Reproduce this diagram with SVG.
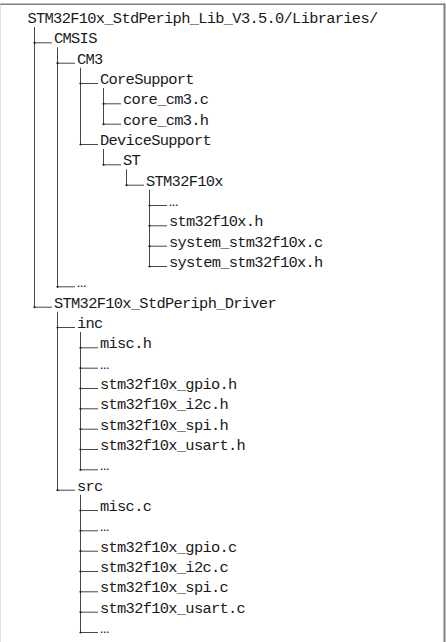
<svg xmlns="http://www.w3.org/2000/svg" width="446" height="642" viewBox="0 0 446 642">
<style>
text{font-family:"Liberation Mono","Courier New",monospace;font-size:15.4px;letter-spacing:-0.7px;fill:#1a1a1a}
.c line{stroke:#333;stroke-width:0.9}
.c circle{fill:#222}
</style>
<rect width="446" height="642" fill="#fff"/>
<g id="frame" fill="none" stroke="#808080">
<line x1="0" y1="4.3" x2="445" y2="4.3" stroke-width="1.5"/>
<line x1="444.5" y1="3.5" x2="444.5" y2="642" stroke-width="2"/>
<line x1="0.5" y1="4" x2="0.5" y2="642" stroke-width="0.6" stroke="#d0d0d0"/>
</g>
<g id="connectors" class="c">
<line x1="34.5" y1="27" x2="34.5" y2="307.2"/>
<line x1="57.5" y1="47.3" x2="57.5" y2="286.8"/>
<line x1="80.5" y1="67.7" x2="80.5" y2="144.5"/>
<line x1="103.5" y1="88" x2="103.5" y2="123.5"/>
<line x1="103.5" y1="149" x2="103.5" y2="164.8"/>
<line x1="126.5" y1="169.3" x2="126.5" y2="185.2"/>
<line x1="149.5" y1="189.7" x2="149.5" y2="266.5"/>
<line x1="57.5" y1="311.7" x2="57.5" y2="490.2"/>
<line x1="80.5" y1="332" x2="80.5" y2="469.8"/>
<line x1="80.5" y1="494.7" x2="80.5" y2="632.5"/>
<line x1="34.5" y1="42.8" x2="52" y2="42.8"/>
<line x1="57.5" y1="63.2" x2="75" y2="63.2"/>
<line x1="80.5" y1="83.5" x2="98" y2="83.5"/>
<line x1="103.5" y1="103.8" x2="121" y2="103.8"/>
<line x1="103.5" y1="124.2" x2="121" y2="124.2"/>
<line x1="80.5" y1="144.5" x2="98" y2="144.5"/>
<line x1="103.5" y1="164.8" x2="121" y2="164.8"/>
<line x1="126.5" y1="185.2" x2="144" y2="185.2"/>
<line x1="149.5" y1="205.5" x2="167" y2="205.5"/>
<line x1="149.5" y1="225.8" x2="167" y2="225.8"/>
<line x1="149.5" y1="246.2" x2="167" y2="246.2"/>
<line x1="149.5" y1="266.5" x2="167" y2="266.5"/>
<line x1="57.5" y1="286.8" x2="75" y2="286.8"/>
<line x1="34.5" y1="307.2" x2="52" y2="307.2"/>
<line x1="57.5" y1="327.5" x2="75" y2="327.5"/>
<line x1="80.5" y1="347.8" x2="98" y2="347.8"/>
<line x1="80.5" y1="368.2" x2="98" y2="368.2"/>
<line x1="80.5" y1="388.5" x2="98" y2="388.5"/>
<line x1="80.5" y1="408.8" x2="98" y2="408.8"/>
<line x1="80.5" y1="429.2" x2="98" y2="429.2"/>
<line x1="80.5" y1="449.5" x2="98" y2="449.5"/>
<line x1="80.5" y1="469.8" x2="98" y2="469.8"/>
<line x1="57.5" y1="490.2" x2="75" y2="490.2"/>
<line x1="80.5" y1="510.5" x2="98" y2="510.5"/>
<line x1="80.5" y1="530.8" x2="98" y2="530.8"/>
<line x1="80.5" y1="551.2" x2="98" y2="551.2"/>
<line x1="80.5" y1="571.5" x2="98" y2="571.5"/>
<line x1="80.5" y1="591.8" x2="98" y2="591.8"/>
<line x1="80.5" y1="612.2" x2="98" y2="612.2"/>
<line x1="80.5" y1="632.5" x2="98" y2="632.5"/>
<circle cx="34.5" cy="42.8" r="1.1"/>
<circle cx="57.5" cy="63.2" r="1.1"/>
<circle cx="80.5" cy="83.5" r="1.1"/>
<circle cx="103.5" cy="103.8" r="1.1"/>
<circle cx="103.5" cy="124.2" r="1.1"/>
<circle cx="80.5" cy="144.5" r="1.1"/>
<circle cx="103.5" cy="164.8" r="1.1"/>
<circle cx="126.5" cy="185.2" r="1.1"/>
<circle cx="149.5" cy="205.5" r="1.1"/>
<circle cx="149.5" cy="225.8" r="1.1"/>
<circle cx="149.5" cy="246.2" r="1.1"/>
<circle cx="149.5" cy="266.5" r="1.1"/>
<circle cx="57.5" cy="286.8" r="1.1"/>
<circle cx="34.5" cy="307.2" r="1.1"/>
<circle cx="57.5" cy="327.5" r="1.1"/>
<circle cx="80.5" cy="347.8" r="1.1"/>
<circle cx="80.5" cy="368.2" r="1.1"/>
<circle cx="80.5" cy="388.5" r="1.1"/>
<circle cx="80.5" cy="408.8" r="1.1"/>
<circle cx="80.5" cy="429.2" r="1.1"/>
<circle cx="80.5" cy="449.5" r="1.1"/>
<circle cx="80.5" cy="469.8" r="1.1"/>
<circle cx="57.5" cy="490.2" r="1.1"/>
<circle cx="80.5" cy="510.5" r="1.1"/>
<circle cx="80.5" cy="530.8" r="1.1"/>
<circle cx="80.5" cy="551.2" r="1.1"/>
<circle cx="80.5" cy="571.5" r="1.1"/>
<circle cx="80.5" cy="591.8" r="1.1"/>
<circle cx="80.5" cy="612.2" r="1.1"/>
<circle cx="80.5" cy="632.5" r="1.1"/>
</g>
<g id="n-root"><text x="27.5" y="23">STM32F10x_StdPeriph_Lib_V3.5.0/Libraries/</text></g>
<g id="n-cmsis"><text x="54" y="43.3">CMSIS</text></g>
<g id="n-cm3"><text x="77" y="63.7">CM3</text></g>
<g id="n-coresupport"><text x="100" y="84">CoreSupport</text></g>
<g id="n-core-cm3-c"><text x="123" y="104.3">core_cm3.c</text></g>
<g id="n-core-cm3-h"><text x="123" y="124.7">core_cm3.h</text></g>
<g id="n-devicesupport"><text x="100" y="145">DeviceSupport</text></g>
<g id="n-st"><text x="123" y="165.3">ST</text></g>
<g id="n-stm32f10x"><text x="146" y="185.7">STM32F10x</text></g>
<g id="n-dev-ellipsis"><text x="169" y="206">…</text></g>
<g id="n-stm32f10x-h"><text x="169" y="226.3">stm32f10x.h</text></g>
<g id="n-system-c"><text x="169" y="246.7">system_stm32f10x.c</text></g>
<g id="n-system-h"><text x="169" y="267">system_stm32f10x.h</text></g>
<g id="n-cmsis-ellipsis"><text x="77" y="287.3">…</text></g>
<g id="n-driver"><text x="54" y="307.7">STM32F10x_StdPeriph_Driver</text></g>
<g id="n-inc"><text x="77" y="328">inc</text></g>
<g id="n-misc-h"><text x="100" y="348.3">misc.h</text></g>
<g id="n-inc-ellipsis1"><text x="100" y="368.7">…</text></g>
<g id="n-gpio-h"><text x="100" y="389">stm32f10x_gpio.h</text></g>
<g id="n-i2c-h"><text x="100" y="409.3">stm32f10x_i2c.h</text></g>
<g id="n-spi-h"><text x="100" y="429.7">stm32f10x_spi.h</text></g>
<g id="n-usart-h"><text x="100" y="450">stm32f10x_usart.h</text></g>
<g id="n-inc-ellipsis2"><text x="100" y="470.3">…</text></g>
<g id="n-src"><text x="77" y="490.7">src</text></g>
<g id="n-misc-c"><text x="100" y="511">misc.c</text></g>
<g id="n-src-ellipsis1"><text x="100" y="531.3">…</text></g>
<g id="n-gpio-c"><text x="100" y="551.7">stm32f10x_gpio.c</text></g>
<g id="n-i2c-c"><text x="100" y="572">stm32f10x_i2c.c</text></g>
<g id="n-spi-c"><text x="100" y="592.3">stm32f10x_spi.c</text></g>
<g id="n-usart-c"><text x="100" y="612.7">stm32f10x_usart.c</text></g>
<g id="n-src-ellipsis2"><text x="100" y="633">…</text></g>
</svg>
